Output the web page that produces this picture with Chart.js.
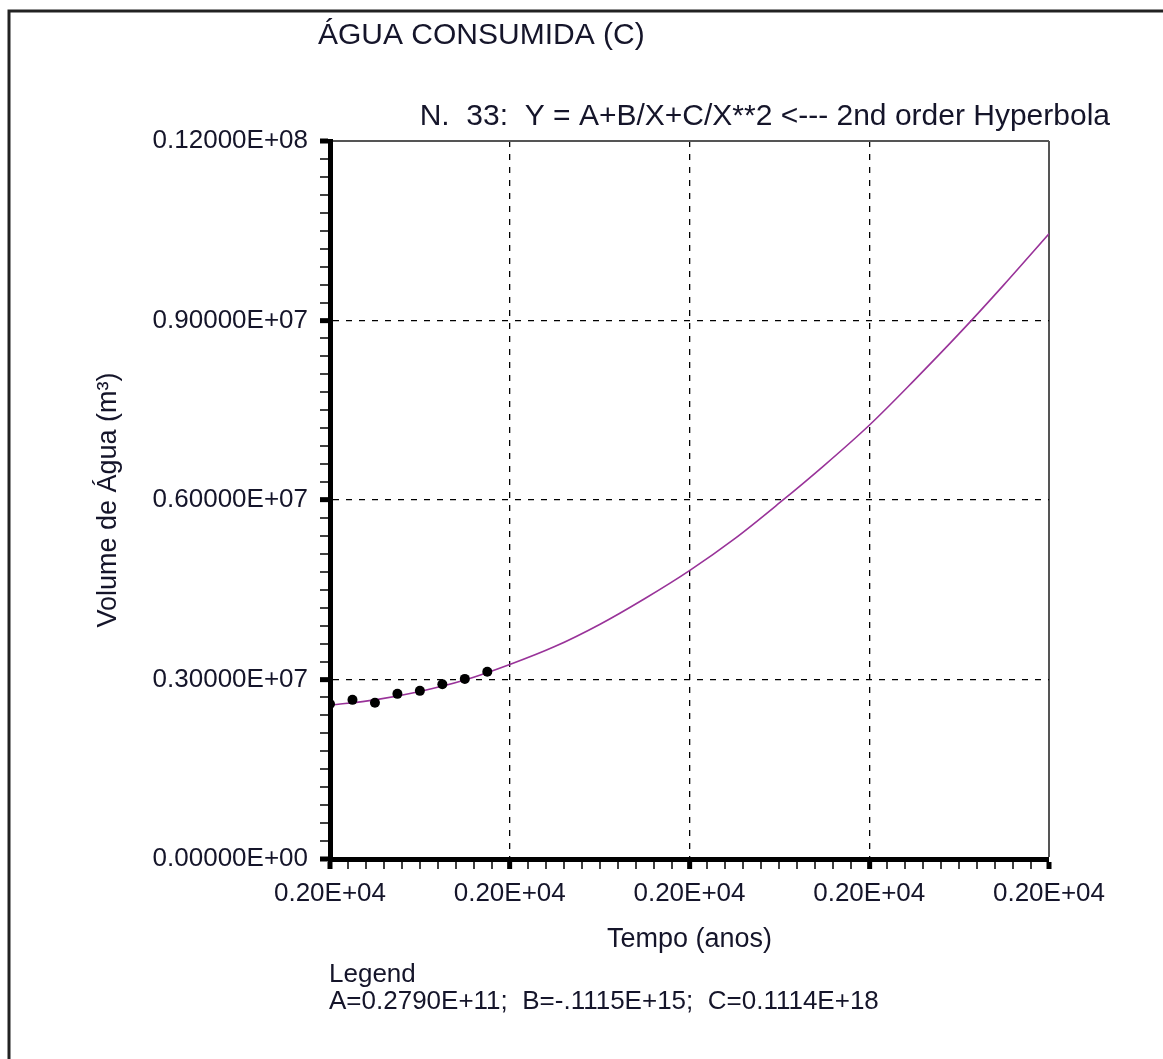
<!DOCTYPE html>
<html>
<head>
<meta charset="utf-8">
<script src="https://cdn.jsdelivr.net/npm/chart.js@4.4.1/dist/chart.umd.min.js"></script>
<style>
  html, body { margin: 0; padding: 0; background: #fff; }
</style>
</head>
<body>
<canvas id="chart" width="1163" height="1059"></canvas>
<script>
// observed points (year / m3)
const obsYears = [2000, 2001, 2002, 2003, 2004, 2005, 2006, 2007]
const obsVolume = [2590000, 2660000, 2610000, 2760000, 2810000, 2920000, 3010000, 3130000]

// fitted curve
const fitYears = [2000, 2002, 2004, 2006, 2008, 2010, 2012, 2014, 2016, 2018, 2020, 2022, 2024, 2026, 2028, 2030, 2032]
const fitVolume = [2570000, 2660000, 2800000, 2990000, 3250000, 3550000, 3920000, 4350000, 4820000, 5350000, 5950000, 6580000, 7250000, 8000000, 8780000, 9600000, 10450000]

// major ticks
const xTicks = [2000, 2008, 2016, 2024, 2032]
const yTicks = [0, 3000000, 6000000, 9000000, 12000000]

const txt = '#15152a'
const font = '"Liberation Sans", Arial, sans-serif'

const xMinor = (xTicks[1] - xTicks[0]) / 10
const yMinor = (yTicks[1] - yTicks[0]) / 10

// fortran style number, e.g. 0.12000E+08
const fortran = (v, digits) => {
  if (Math.abs(v) < 1e-9) return (0).toFixed(digits) + 'E+00'
  const e = Math.floor(Math.log10(Math.abs(v))) + 1
  const m = v / Math.pow(10, e)
  return m.toFixed(digits) + 'E' + (e < 0 ? '-' : '+') + String(Math.abs(e)).padStart(2, '0')
}

const isMajor = (v, list, step) => list.some(t => Math.abs(t - v) < step * 0.01)
const isInner = (v, list, step) => isMajor(v, list, step) && Math.abs(v - list[0]) > step * 0.01 && Math.abs(v - list[list.length - 1]) > step * 0.01
const isLast = (v, list, step) => Math.abs(v - list[list.length - 1]) < step * 0.01

const gridOpts = (list, step) => ({
  color: c => {
    if (!c.tick) return 'rgba(0,0,0,0)'
    if (isInner(c.tick.value, list, step)) return '#000'
    if (isLast(c.tick.value, list, step)) return '#555'
    return 'rgba(0,0,0,0)'
  },
  lineWidth: c => {
    if (!c.tick) return 0
    if (isInner(c.tick.value, list, step)) return 1.3
    if (isLast(c.tick.value, list, step)) return 2
    return 0
  },
  tickColor: '#000',
  tickWidth: c => c.tick && isMajor(c.tick.value, list, step) ? 5 : 1.5,
  tickLength: 10
})

const borderOpts = (list, step) => ({
  color: '#000',
  width: 5,
  dash: c => c.tick && isInner(c.tick.value, list, step) ? [6, 7] : []
})

// title, subtitle, legend and frame
const extras = {
  id: 'extras',
  afterDraw(chart) {
    const ctx = chart.ctx
    ctx.save()
    ctx.strokeStyle = '#222'
    ctx.lineWidth = 3
    ctx.beginPath()
    ctx.moveTo(9, 1059)
    ctx.lineTo(9, 11)
    ctx.lineTo(1163, 11)
    ctx.stroke()

    ctx.fillStyle = txt
    ctx.textBaseline = 'middle'
    ctx.textAlign = 'left'
    ctx.font = '30px ' + font
    ctx.fillText('ÁGUA CONSUMIDA (C)', 318, 36)
    ctx.font = '30px ' + font
    ctx.textAlign = 'right'
    ctx.fillText('N.  33:  Y = A+B/X+C/X**2 <--- 2nd order Hyperbola', 1110, 117)
    ctx.textAlign = 'left'
    ctx.font = '26px ' + font
    ctx.fillText('Legend', 329, 975)
    ctx.fillText('A=0.2790E+11;  B=-.1115E+15;  C=0.1114E+18', 329, 1002)
    ctx.restore()
  }
}

new Chart(document.getElementById('chart'), {
  type: 'scatter',
  data: {
    datasets: [
      {
        label: 'Observado',
        data: obsYears.map((x, i) => ({ x, y: obsVolume[i] })),
        pointRadius: 5,
        pointBackgroundColor: '#000',
        pointBorderColor: '#000',
        pointBorderWidth: 0,
        showLine: false
      },
      {
        label: 'Ajuste',
        data: fitYears.map((x, i) => ({ x, y: fitVolume[i] })),
        showLine: true,
        borderColor: '#993399',
        borderWidth: 1.6,
        pointRadius: 0,
        cubicInterpolationMode: 'monotone'
      }
    ]
  },
  options: {
    responsive: false,
    animation: false,
    layout: { padding: { top: 141, right: 114, bottom: 0, left: 0 } },
    plugins: {
      legend: { display: false },
      tooltip: { enabled: false }
    },
    scales: {
      x: {
        type: 'linear',
        min: xTicks[0],
        max: xTicks[xTicks.length - 1],
        afterFit: s => { s.height = 200 },
        ticks: {
          stepSize: xMinor,
          autoSkip: false,
          maxRotation: 0,
          minRotation: 0,
          padding: 9,
          color: txt,
          font: { family: font, size: 26 },
          callback: v => isMajor(v, xTicks, xMinor) ? fortran(v, 2) : ''
        },
        grid: gridOpts(xTicks, xMinor),
        border: borderOpts(xTicks, xMinor),
        title: {
          display: true,
          text: 'Tempo (anos)',
          color: txt,
          font: { family: font, size: 27 },
          padding: { top: 0, bottom: 103 }
        }
      },
      y: {
        type: 'linear',
        min: yTicks[0],
        max: yTicks[yTicks.length - 1],
        afterFit: s => { s.width = 330 },
        ticks: {
          stepSize: yMinor,
          autoSkip: false,
          padding: 12,
          color: txt,
          font: { family: font, size: 26 },
          callback: v => isMajor(v, yTicks, yMinor) ? fortran(v, 5) : ''
        },
        grid: gridOpts(yTicks, yMinor),
        border: borderOpts(yTicks, yMinor),
        title: {
          display: true,
          text: 'Volume de Água (m³)',
          color: txt,
          font: { family: font, size: 27 },
          padding: { top: 92, bottom: 0 }
        }
      }
    }
  },
  plugins: [extras]
})
</script>
</body>
</html>
